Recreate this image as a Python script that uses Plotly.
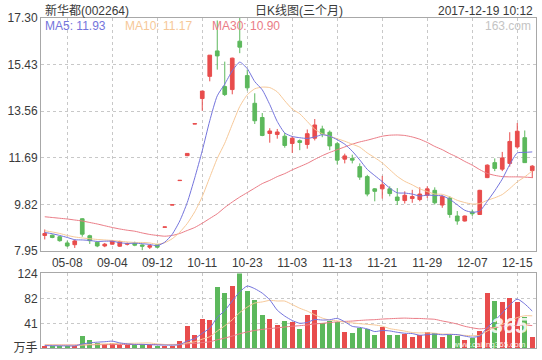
import plotly.graph_objects as go

# ---------------- data ----------------
idx = list(range(66))
tick_pos = [3, 9, 15, 21, 27, 33, 39, 45, 51, 57, 63]
tick_labels = ["05-08", "09-04", "09-12", "10-11", "10-23", "11-03",
               "11-13", "11-21", "11-29", "12-07", "12-15"]

opens = [8.58, 8.59, 8.53, 8.28, 8.21, 9.25, 8.57, 8.31, 8.16, 8.23,
         8.15, 8.23, 8.27, 8.20, 8.11, 8.21, 8.91, 9.80, 10.78, 11.78,
         13.05, 14.07, 14.96, 15.98, 14.55, 14.43, 16.37, 14.99, 13.88, 13.31,
         12.67, 12.63, 12.56, 12.27, 12.38, 12.23, 12.48, 12.85, 12.72, 12.26,
         11.64, 11.67, 11.34, 10.94, 10.45, 10.45, 10.45, 10.12, 9.98, 10.06,
         10.02, 10.19, 10.39, 9.80, 10.08, 9.36, 9.16, 9.52, 9.42, 10.90,
         11.50, 11.24, 11.47, 12.13, 12.50, 11.18]
highs = [8.82, 8.62, 8.55, 8.37, 8.41, 9.27, 8.61, 8.33, 8.28, 8.40,
         8.37, 8.30, 8.33, 8.22, 8.20, 8.24, 8.92, 9.81, 10.79, 11.87,
         13.06, 14.37, 15.81, 17.20, 15.55, 15.71, 17.30, 15.23, 14.28, 13.49,
         12.88, 12.85, 12.69, 12.56, 12.43, 12.83, 13.25, 12.98, 12.79, 12.33,
         11.86, 11.82, 11.47, 11.01, 10.48, 10.97, 10.55, 10.48, 10.35, 10.41,
         10.51, 10.55, 10.51, 10.19, 10.15, 9.56, 9.38, 9.62, 10.41, 11.43,
         11.67, 11.93, 12.72, 13.09, 12.79, 11.40]
lows = [8.42, 8.47, 8.33, 8.11, 8.08, 8.53, 8.24, 8.11, 8.11, 8.21,
        8.12, 8.18, 8.15, 7.99, 8.04, 8.07, 8.91, 9.80, 10.78, 11.76,
        13.05, 13.58, 14.76, 15.23, 14.17, 14.24, 15.89, 14.39, 13.05, 12.56,
        12.30, 12.46, 12.10, 11.89, 12.00, 12.06, 12.39, 12.52, 12.00, 11.43,
        11.47, 11.47, 10.81, 10.15, 9.95, 10.06, 10.15, 9.80, 9.86, 9.89,
        9.95, 10.08, 9.82, 9.69, 9.29, 9.01, 9.14, 9.36, 9.40, 10.88,
        11.16, 11.16, 11.34, 12.06, 11.50, 10.88]
closes = [8.66, 8.50, 8.37, 8.16, 8.36, 8.63, 8.37, 8.16, 8.23, 8.36,
          8.33, 8.25, 8.19, 8.15, 8.17, 8.11, 8.92, 9.81, 10.79, 11.87,
          13.06, 14.37, 15.81, 15.78, 14.23, 15.69, 16.13, 14.50, 13.18, 12.59,
          12.77, 12.73, 12.19, 12.48, 12.31, 12.66, 13.01, 12.65, 12.17, 11.60,
          11.77, 11.60, 10.92, 10.24, 10.35, 10.61, 10.26, 9.98, 10.19, 10.14,
          10.24, 10.45, 9.89, 10.14, 9.42, 9.16, 9.36, 9.45, 10.39, 11.40,
          11.27, 11.69, 12.35, 12.76, 11.50, 11.36]

ma5 = [8.70, 8.65, 8.58, 8.50, 8.41, 8.40, 8.38, 8.34, 8.35, 8.35,
       8.29, 8.26, 8.27, 8.25, 8.22, 8.17, 8.31, 8.63, 9.16, 9.90,
       10.89, 11.98, 13.18, 14.18, 14.65, 15.18, 15.53, 15.27, 14.75, 14.42,
       13.83, 13.15, 12.69, 12.55, 12.50, 12.47, 12.53, 12.62, 12.56, 12.42,
       12.24, 11.96, 11.61, 11.23, 10.98, 10.74, 10.48, 10.29, 10.28, 10.24,
       10.16, 10.20, 10.18, 10.17, 10.03, 9.81, 9.59, 9.51, 9.56, 9.95,
       10.37, 10.84, 11.42, 11.89, 11.91, 11.93]
ma10 = [8.77, 8.72, 8.66, 8.58, 8.52, 8.48, 8.45, 8.42, 8.40, 8.38,
        8.35, 8.32, 8.30, 8.30, 8.28, 8.23, 8.29, 8.45, 8.71, 9.06,
        9.53, 10.14, 10.91, 11.67, 12.28, 13.03, 13.75, 14.22, 14.46, 14.53,
        14.51, 14.34, 13.98, 13.65, 13.46, 13.15, 12.84, 12.66, 12.56, 12.46,
        12.36, 12.24, 12.12, 11.89, 11.70, 11.49, 11.22, 10.95, 10.75, 10.61,
        10.45, 10.34, 10.24, 10.23, 10.13, 9.99, 9.90, 9.84, 9.86, 9.99,
        10.09, 10.22, 10.46, 10.73, 10.93, 11.17]
ma30 = [9.33, 9.30, 9.27, 9.24, 9.20, 9.16, 9.10, 9.04, 8.97, 8.90,
        8.84, 8.79, 8.75, 8.68, 8.62, 8.58, 8.55, 8.58, 8.66, 8.78,
        8.90, 9.07, 9.26, 9.45, 9.70, 9.92, 10.12, 10.30, 10.48, 10.66,
        10.79, 10.94, 11.06, 11.21, 11.34, 11.47, 11.63, 11.78, 11.91, 12.02,
        12.13, 12.24, 12.33, 12.40, 12.48, 12.56, 12.60, 12.61, 12.59, 12.53,
        12.44, 12.31, 12.15, 12.02, 11.86, 11.72, 11.55, 11.40, 11.22, 11.07,
        10.99, 10.94, 10.93, 10.93, 10.92, 10.90]

volume = [3.8, 3.8, 2.7, 3.3, 3.8, 19.7, 13.1, 8.7, 6.6, 8.7,
          5.5, 4.9, 4.4, 7.1, 5.5, 3.8, 3.3, 3.8, 11.5, 36.0,
          22.4, 49.0, 46.0, 101.0, 92.0, 103.0, 124.0, 95.0, 79.0, 55.0,
          47.5, 38.0, 45.5, 42.6, 31.7, 54.6, 62.8, 41.0, 44.3, 43.7,
          26.2, 24.6, 32.8, 31.7, 21.3, 35.0, 21.3, 21.3, 23.5, 19.1,
          20.8, 26.2, 25.7, 18.0, 21.9, 19.7, 13.7, 16.4, 28.0, 92.0,
          77.5, 77.0, 83.6, 76.5, 52.0, 18.0]
vma5 = [4.0, 3.8, 3.6, 3.5, 3.5, 6.7, 8.5, 9.7, 10.4, 11.4,
        8.5, 6.9, 6.0, 6.1, 5.5, 5.1, 4.8, 4.7, 5.6, 11.7,
        15.4, 24.5, 33.0, 50.9, 62.1, 78.2, 93.2, 103.0, 98.6, 91.2,
        80.1, 62.9, 53.0, 45.7, 41.1, 42.5, 47.4, 46.5, 46.9, 49.3,
        43.6, 36.0, 34.3, 31.8, 27.3, 29.1, 28.4, 26.1, 24.5, 24.0,
        21.2, 22.2, 23.1, 22.0, 22.5, 22.3, 19.8, 17.9, 19.9, 34.0,
        45.5, 58.2, 71.6, 81.3, 73.3, 61.4]
vma10 = [5.2, 5.0, 4.8, 4.6, 4.5, 5.0, 5.8, 6.3, 6.8, 7.4,
         7.6, 7.7, 7.9, 8.3, 8.4, 6.8, 5.9, 5.4, 5.9, 8.6,
         10.3, 14.7, 18.8, 28.2, 36.9, 46.8, 58.9, 68.0, 74.7, 76.6,
         79.2, 78.1, 78.0, 72.2, 66.1, 61.3, 55.2, 49.8, 46.3, 45.2,
         43.0, 41.7, 40.4, 39.3, 38.3, 36.3, 32.2, 30.2, 28.1, 25.7,
         25.1, 25.3, 24.6, 23.2, 23.3, 21.8, 21.0, 20.5, 21.0, 28.2,
         33.9, 39.0, 44.8, 50.6, 53.6, 53.5]
vma30 = [5.0, 5.0, 5.0, 5.0, 5.0, 5.2, 5.4, 5.5, 5.6, 5.7,
         5.8, 5.8, 5.8, 5.8, 5.8, 5.8, 5.8, 5.9, 6.0, 7.0,
         7.6, 9.0, 10.4, 13.6, 16.5, 19.8, 23.7, 26.7, 29.2, 30.9,
         32.3, 33.5, 34.9, 36.2, 37.1, 38.3, 40.0, 41.0, 42.3, 43.5,
         44.2, 44.8, 45.8, 46.6, 47.1, 48.1, 48.7, 49.3, 49.7, 49.2,
         49.1, 48.4, 47.7, 44.9, 42.6, 39.8, 36.1, 33.5, 31.8, 33.0,
         34.0, 35.3, 36.6, 37.7, 38.4, 37.2]

price_ticks = [7.95, 9.82, 11.69, 13.56, 15.43, 17.30]
vol_ticks = [0, 41, 82, 124]
vol_tick_text = ["万手", "41", "82", "124"]

title_left = "新华都(002264)"
title_mid = "日K线图(三个月)"
title_right = "2017-12-19 10:12"

# ---------------- styling ----------------
RED = "#e84c4c"
GREEN = "#5cb85c"
C_MA5 = "#7474dc"
C_MA10 = "#f6c898"
C_MA30 = "#ea7c86"
GRID = "#c8c8c8"
BORDER = "#a8a8a8"
FONT = "Liberation Sans, Noto Sans CJK SC, sans-serif"
TXT = "#3a3a3a"

vol_colors = [RED if c >= o else GREEN for o, c in zip(opens, closes)]

fig = go.Figure()

fig.add_trace(go.Candlestick(
    x=idx, open=opens, high=highs, low=lows, close=closes,
    increasing=dict(line=dict(color=RED, width=1), fillcolor=RED),
    decreasing=dict(line=dict(color=GREEN, width=1), fillcolor=GREEN),
    whiskerwidth=0, xaxis="x", yaxis="y", hoverinfo="skip", showlegend=False))

for vals, col in [(ma30, C_MA30), (ma10, C_MA10), (ma5, C_MA5)]:
    fig.add_trace(go.Scatter(x=idx, y=vals, mode="lines",
                             line=dict(color=col, width=1, shape="spline", smoothing=0.6),
                             xaxis="x", yaxis="y", hoverinfo="skip", showlegend=False))

fig.add_trace(go.Bar(x=idx, y=volume, marker=dict(color=vol_colors, line=dict(width=0)),
                     width=0.68, xaxis="x2", yaxis="y2", hoverinfo="skip", showlegend=False))

for vals, col in [(vma30, C_MA30), (vma10, C_MA10), (vma5, C_MA5)]:
    fig.add_trace(go.Scatter(x=idx, y=vals, mode="lines",
                             line=dict(color=col, width=1, shape="spline", smoothing=0.6),
                             xaxis="x2", yaxis="y2", hoverinfo="skip", showlegend=False))

H_TOP, H_BOT = 18, 8
plot_h = 360 - H_TOP - H_BOT


def py(pix):
    return (360 - H_BOT - pix) / plot_h


def px(pix):
    return (pix - 41) / 496


axis_common = dict(showline=True, linecolor=BORDER, linewidth=1, mirror=True,
                   showgrid=True, gridcolor=GRID, griddash="dot", gridwidth=1,
                   zeroline=False, ticks="", fixedrange=True,
                   tickfont=dict(family=FONT, size=12, color=TXT))

fig.update_layout(
    width=542, height=360,
    margin=dict(l=41, r=5, t=H_TOP, b=H_BOT),
    paper_bgcolor="white", plot_bgcolor="white",
    bargap=0,
    xaxis=dict(domain=[0, 1], anchor="y", range=[-0.5, 65.5],
               tickmode="array", tickvals=tick_pos, ticktext=tick_labels,
               rangeslider=dict(visible=False), **axis_common),
    yaxis=dict(domain=[py(254), 1], anchor="x", range=[price_ticks[0], price_ticks[-1]],
               tickmode="array", tickvals=price_ticks,
               ticktext=[f"{v:.2f}" for v in price_ticks], **axis_common),
    xaxis2=dict(domain=[0, 1], anchor="y2", range=[-0.5, 65.5],
                tickmode="array", tickvals=tick_pos, showticklabels=False,
                **axis_common),
    yaxis2=dict(domain=[0, py(276.5)], anchor="x2", range=[0, 124],
                tickmode="array", tickvals=vol_ticks, ticktext=vol_tick_text,
                **axis_common),
)

ann = []
ann.append(dict(text=title_left, x=px(43), y=py(10.5), xanchor="left", yanchor="middle",
                font=dict(family=FONT, size=12, color=TXT)))
ann.append(dict(text=title_mid, x=px(300), y=py(10.5), xanchor="center", yanchor="middle",
                font=dict(family=FONT, size=12, color=TXT)))
ann.append(dict(text=title_right, x=px(536), y=py(10.5), xanchor="right", yanchor="middle",
                font=dict(family=FONT, size=12, color=TXT)))
ann.append(dict(text=f"MA5: {ma5[-1]:.2f}", x=px(43), y=py(26), xanchor="left", yanchor="middle",
                font=dict(family=FONT, size=12, color=C_MA5)))
ann.append(dict(text=f"MA10: {ma10[-1]:.2f}", x=px(123), y=py(26), xanchor="left", yanchor="middle",
                font=dict(family=FONT, size=12, color=C_MA10)))
ann.append(dict(text=f"MA30: {ma30[-1]:.2f}", x=px(210), y=py(26), xanchor="left", yanchor="middle",
                font=dict(family=FONT, size=12, color=C_MA30)))
ann.append(dict(text="163.com", x=px(534), y=py(26), xanchor="right", yanchor="middle",
                font=dict(family=FONT, size=12, color="#c4c4c4")))
# watermark over the volume panel
ann.append(dict(text="<b><i>365</i></b>", x=px(510), y=py(329), xanchor="center", yanchor="middle",
                font=dict(family=FONT, size=22, color="rgba(255,255,255,0.85)")))
ann.append(dict(text="www.caijing365.com", x=px(490), y=py(348), xanchor="center", yanchor="middle",
                font=dict(family=FONT, size=8, color="rgba(255,255,255,0.9)")))
for a in ann:
    a.update(xref="paper", yref="paper", showarrow=False)
fig.update_layout(annotations=ann)

fig.write_html("out.html",
               config={"displayModeBar": False, "staticPlot": True},
               post_script="document.body.style.margin='0';document.body.style.overflow='hidden';")
